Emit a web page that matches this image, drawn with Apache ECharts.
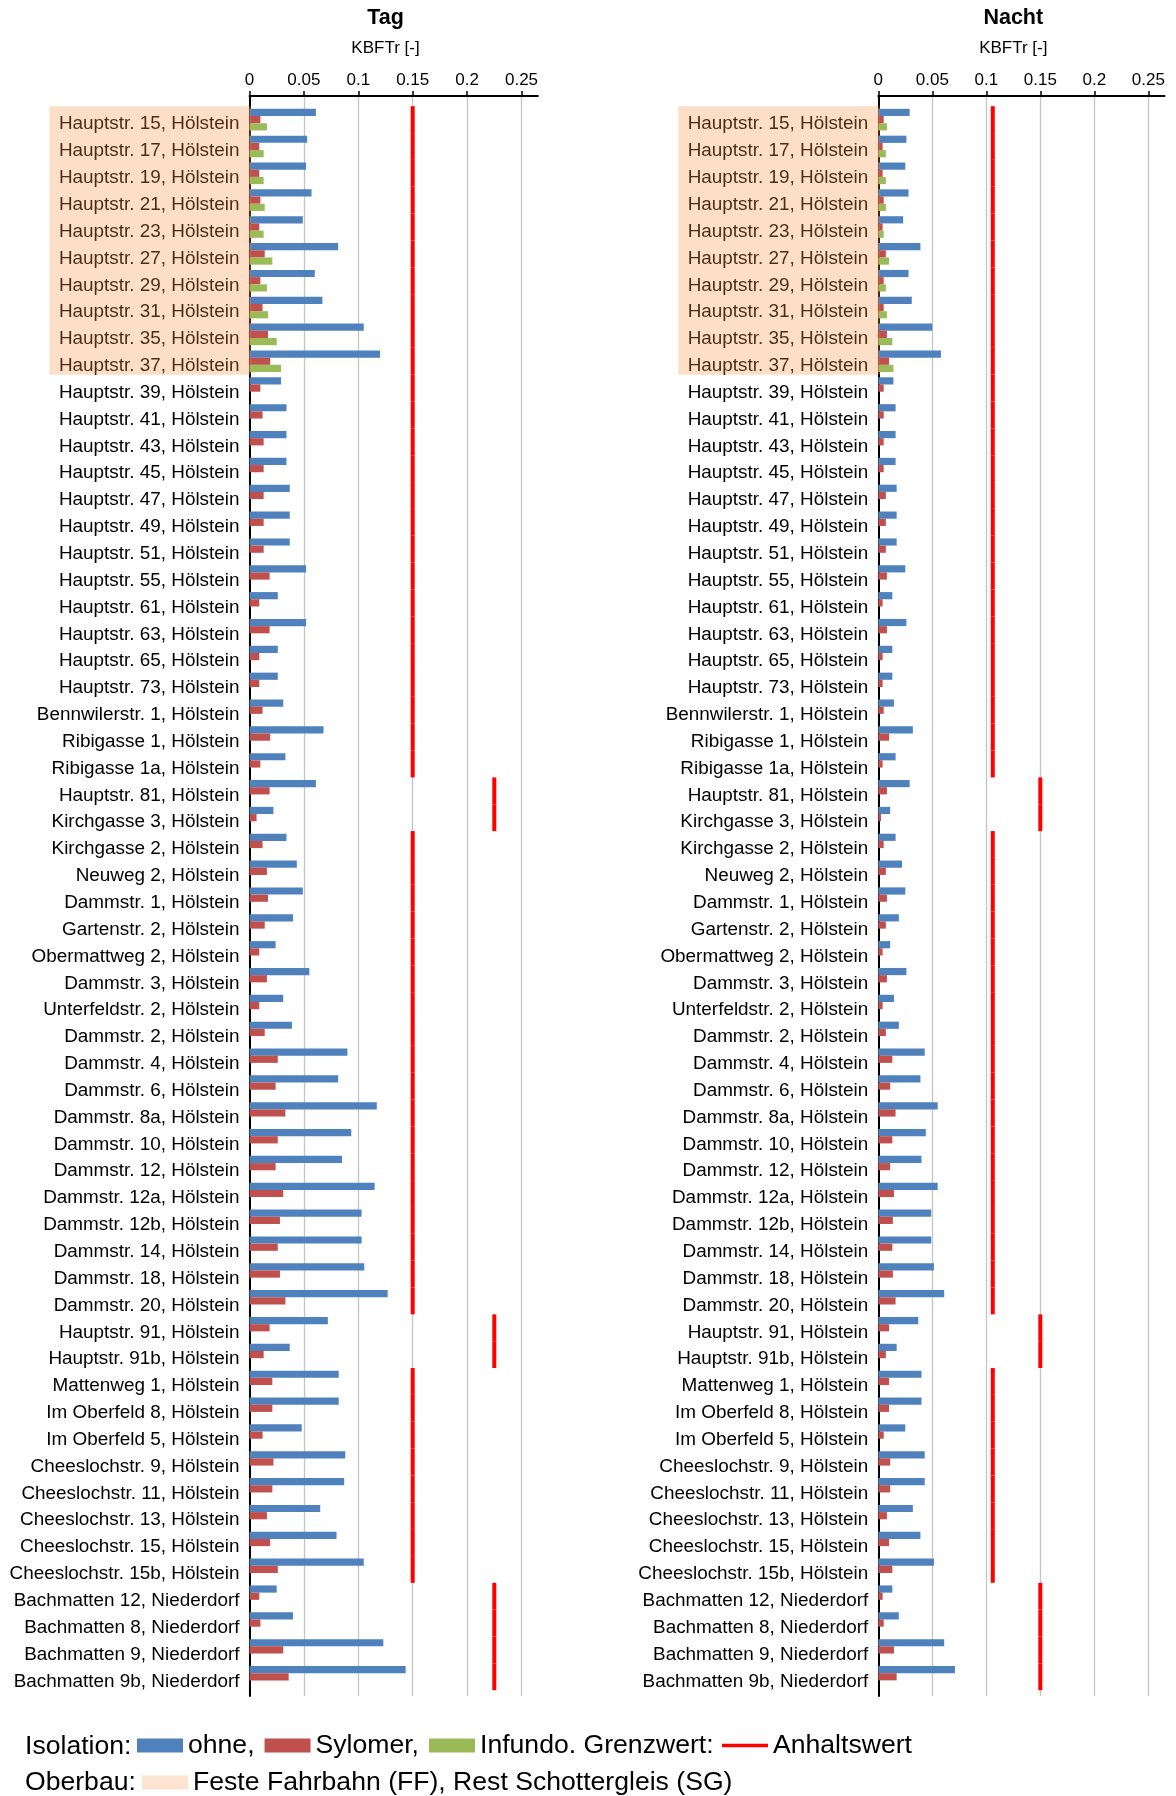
<!DOCTYPE html>
<html><head><meta charset="utf-8">
<script src="https://cdn.jsdelivr.net/npm/echarts@6/dist/echarts.min.js"></script>
<style>html,body{margin:0;padding:0;background:#fff}#c{width:1176px;height:1796px}</style>
</head><body><div id="c"></div>
<script>
const categories = [
 'Hauptstr. 15, Hölstein','Hauptstr. 17, Hölstein','Hauptstr. 19, Hölstein','Hauptstr. 21, Hölstein','Hauptstr. 23, Hölstein',
 'Hauptstr. 27, Hölstein','Hauptstr. 29, Hölstein','Hauptstr. 31, Hölstein','Hauptstr. 35, Hölstein','Hauptstr. 37, Hölstein',
 'Hauptstr. 39, Hölstein','Hauptstr. 41, Hölstein','Hauptstr. 43, Hölstein','Hauptstr. 45, Hölstein','Hauptstr. 47, Hölstein',
 'Hauptstr. 49, Hölstein','Hauptstr. 51, Hölstein','Hauptstr. 55, Hölstein','Hauptstr. 61, Hölstein','Hauptstr. 63, Hölstein',
 'Hauptstr. 65, Hölstein','Hauptstr. 73, Hölstein','Bennwilerstr. 1, Hölstein','Ribigasse 1, Hölstein','Ribigasse 1a, Hölstein',
 'Hauptstr. 81, Hölstein','Kirchgasse 3, Hölstein','Kirchgasse 2, Hölstein','Neuweg 2, Hölstein','Dammstr. 1, Hölstein',
 'Gartenstr. 2, Hölstein','Obermattweg 2, Hölstein','Dammstr. 3, Hölstein','Unterfeldstr. 2, Hölstein','Dammstr. 2, Hölstein',
 'Dammstr. 4, Hölstein','Dammstr. 6, Hölstein','Dammstr. 8a, Hölstein','Dammstr. 10, Hölstein','Dammstr. 12, Hölstein',
 'Dammstr. 12a, Hölstein','Dammstr. 12b, Hölstein','Dammstr. 14, Hölstein','Dammstr. 18, Hölstein','Dammstr. 20, Hölstein',
 'Hauptstr. 91, Hölstein','Hauptstr. 91b, Hölstein','Mattenweg 1, Hölstein','Im Oberfeld 8, Hölstein','Im Oberfeld 5, Hölstein',
 'Cheeslochstr. 9, Hölstein','Cheeslochstr. 11, Hölstein','Cheeslochstr. 13, Hölstein','Cheeslochstr. 15, Hölstein','Cheeslochstr. 15b, Hölstein',
 'Bachmatten 12, Niederdorf','Bachmatten 8, Niederdorf','Bachmatten 9, Niederdorf','Bachmatten 9b, Niederdorf'
];
// categories with Feste Fahrbahn (FF) – first and last index of the highlighted block
const ffRange = [0, 9];

const tickValues = [0, 0.05, 0.1, 0.15, 0.2, 0.25];
const axisMax = 0.265;

// Tag
const ohneTag = [0.061,0.053,0.052,0.057,0.049,0.0815,0.060,0.067,0.105,0.120,
 0.029,0.034,0.034,0.034,0.037,0.037,0.037,0.052,0.026,0.052,
 0.026,0.026,0.031,0.068,0.033,0.061,0.022,0.034,0.0435,0.049,
 0.040,0.024,0.055,0.031,0.039,0.090,0.0815,0.117,0.0935,0.085,
 0.115,0.103,0.103,0.1055,0.127,0.072,0.037,0.082,0.082,0.048,
 0.088,0.087,0.065,0.080,0.105,0.025,0.040,0.123,0.1435];
const sylomerTag = [0.010,0.009,0.009,0.010,0.009,0.014,0.010,0.012,0.017,0.019,
 0.010,0.012,0.013,0.013,0.013,0.013,0.013,0.0185,0.009,0.0185,
 0.009,0.009,0.012,0.019,0.010,0.0185,0.0065,0.012,0.016,0.017,
 0.014,0.009,0.016,0.009,0.014,0.026,0.024,0.033,0.026,0.024,
 0.031,0.028,0.026,0.028,0.033,0.0185,0.013,0.021,0.021,0.012,
 0.022,0.021,0.016,0.019,0.026,0.009,0.010,0.031,0.036];
const infundoTag = [0.016,0.013,0.013,0.014,0.013,0.021,0.016,0.017,0.025,0.029];
const grenzTag = [0.15,0.15,0.15,0.15,0.15,0.15,0.15,0.15,0.15,0.15,
 0.15,0.15,0.15,0.15,0.15,0.15,0.15,0.15,0.15,0.15,
 0.15,0.15,0.15,0.15,0.15,0.225,0.225,0.15,0.15,0.15,
 0.15,0.15,0.15,0.15,0.15,0.15,0.15,0.15,0.15,0.15,
 0.15,0.15,0.15,0.15,0.15,0.225,0.225,0.15,0.15,0.15,
 0.15,0.15,0.15,0.15,0.15,0.225,0.225,0.225,0.225];

// Nacht
const ohneNacht = [0.029,0.026,0.025,0.028,0.023,0.039,0.028,0.031,0.050,0.058,
 0.014,0.016,0.016,0.016,0.017,0.017,0.017,0.025,0.013,0.026,
 0.013,0.013,0.0145,0.032,0.016,0.029,0.011,0.016,0.022,0.025,
 0.019,0.011,0.026,0.0145,0.019,0.043,0.039,0.055,0.044,0.040,
 0.055,0.049,0.049,0.0515,0.061,0.037,0.017,0.040,0.040,0.025,
 0.043,0.043,0.032,0.039,0.0515,0.013,0.019,0.061,0.071];
const sylomerNacht = [0.005,0.004,0.004,0.005,0.004,0.007,0.005,0.005,0.008,0.010,
 0.005,0.005,0.005,0.005,0.007,0.007,0.007,0.008,0.004,0.008,
 0.004,0.004,0.005,0.010,0.004,0.008,0.0025,0.005,0.007,0.008,
 0.007,0.004,0.008,0.004,0.007,0.013,0.011,0.016,0.013,0.011,
 0.0145,0.0135,0.013,0.0135,0.016,0.010,0.007,0.010,0.010,0.005,
 0.011,0.011,0.008,0.010,0.013,0.004,0.005,0.0145,0.017];
const infundoNacht = [0.008,0.007,0.007,0.007,0.005,0.010,0.007,0.008,0.013,0.014];
const grenzNacht = [0.106,0.106,0.106,0.106,0.106,0.106,0.106,0.106,0.106,0.106,
 0.106,0.106,0.106,0.106,0.106,0.106,0.106,0.106,0.106,0.106,
 0.106,0.106,0.106,0.106,0.106,0.15,0.15,0.106,0.106,0.106,
 0.106,0.106,0.106,0.106,0.106,0.106,0.106,0.106,0.106,0.106,
 0.106,0.106,0.106,0.106,0.106,0.15,0.15,0.106,0.106,0.106,
 0.106,0.106,0.106,0.106,0.106,0.15,0.15,0.15,0.15];

const seriesNames = ['ohne','Sylomer','Infundo','Anhaltswert','Feste Fahrbahn (FF), Rest Schottergleis (SG)'];
const COLORS = {ohne:'#4F81BD', Sylomer:'#C0504D', Infundo:'#9BBB59', grenz:'#FF0000', ff:'rgba(247,150,70,0.30)', ffLegend:'#FDE4D0'};
const FONT = '"Liberation Sans", Arial, sans-serif';

const chart = echarts.init(document.getElementById('c'), null, {renderer:'canvas', width:1176, height:1796});

// pixel width per 0.25 of axis: 272 (Tag), 270 (Nacht)
const panels = [
 {title:'Tag', left:249.5, width:272*axisMax/0.25, ohne:ohneTag, syl:sylomerTag, inf:infundoTag, grenz:grenzTag},
 {title:'Nacht', left:878.3, width:270*axisMax/0.25, ohne:ohneNacht, syl:sylomerNacht, inf:infundoNacht, grenz:grenzNacht}
];

const FRAME_TOP = 96, FRAME_BOTTOM = 100;
const BAR_TOP = 106.2, BAR_H = 1584;

const grid = [], xAxis = [], yAxis = [], series = [], graphic = [];
panels.forEach((p, i) => {
  const gf = 2*i, gb = 2*i+1;
  grid.push({left:p.left, width:p.width, top:FRAME_TOP, bottom:FRAME_BOTTOM, containLabel:false, show:false});
  grid.push({left:p.left, width:p.width, top:BAR_TOP, height:BAR_H, containLabel:false, show:false});
  xAxis.push({type:'value', gridIndex:gf, position:'top', min:tickValues[0], max:axisMax,
    interval:tickValues[1]-tickValues[0],
    name:'KBFTr [-]', nameLocation:'middle', nameGap:39,
    nameTextStyle:{fontFamily:FONT, fontSize:17, color:'#000', padding:[0,0,0,-(p.width-p.width*0.25/axisMax)]},
    axisLine:{show:true, onZero:false, lineStyle:{color:'#000', width:2}},
    axisTick:{show:true, length:5, lineStyle:{color:'#000', width:1.5}, customValues:tickValues},
    axisLabel:{fontFamily:FONT, fontSize:17, color:'#000', margin:7, customValues:tickValues},
    splitLine:{show:true, lineStyle:{color:'#C4C4C4', width:1.3}}
  });
  xAxis.push({type:'value', gridIndex:gb, min:tickValues[0], max:axisMax, show:false,
    axisLine:{show:false}, axisTick:{show:false}, axisLabel:{show:false}, splitLine:{show:false}});
  yAxis.push({type:'value', gridIndex:gf, min:0, max:1, axisLine:{show:true, onZero:false, lineStyle:{color:'#000', width:2}},
    axisTick:{show:false}, axisLabel:{show:false}, splitLine:{show:false}});
  yAxis.push({type:'category', gridIndex:gb, data:categories, inverse:true,
    axisLine:{show:false}, axisTick:{show:false}, splitLine:{show:false},
    axisLabel:{fontFamily:FONT, fontSize:18.9, color:'#000', margin:10, interval:0, verticalAlign:'top', lineHeight:9.2}});
  const common = {type:'bar', xAxisIndex:gb, yAxisIndex:gb, barWidth:7.2, barGap:'0%', silent:true};
  series.push(Object.assign({name:'ohne', data:p.ohne, itemStyle:{color:COLORS.ohne}}, common));
  series.push(Object.assign({name:'Sylomer', data:p.syl, itemStyle:{color:COLORS.Sylomer}}, common));
  series.push(Object.assign({name:'Infundo', data:p.inf, itemStyle:{color:COLORS.Infundo}}, common));
  series.push({type:'custom', name:'Anhaltswert', xAxisIndex:gb, yAxisIndex:gb, silent:true, z:5,
    itemStyle:{color:COLORS.grenz},
    data:p.grenz.map((v, k) => [v, k]),
    encode:{x:0, y:1},
    renderItem:function(params, api){
      const c = api.coord([api.value(0), api.value(1)]);
      const h = api.size([0, 1])[1];
      return {type:'rect', shape:{x:c[0]-2, y:c[1]-h/2, width:4, height:h}, style:{fill:COLORS.grenz}};
    }
  });
  series.push({type:'custom', name:seriesNames[4], xAxisIndex:gb, yAxisIndex:gb, silent:true, z:6, clip:false,
    itemStyle:{color:COLORS.ffLegend},
    data:[[0, ffRange[0], ffRange[1]]],
    encode:{x:0, y:[1,2]},
    renderItem:function(params, api){
      const a = api.coord([0, api.value(1)]);
      const b = api.coord([0, api.value(2)]);
      const h = api.size([0, 1])[1];
      const top = a[1]-h/2, bot = b[1]+h/2;
      return {type:'rect', shape:{x:a[0]-200, y:top, width:201.5, height:bot-top}, style:{fill:COLORS.ff}};
    }
  });
  const plotW = p.width*0.25/axisMax;
  graphic.push({type:'text', x:p.left + plotW/2, y:18.3, style:{text:p.title, fontFamily:FONT, fontWeight:'bold', fontSize:21.5, fill:'#000', align:'center', verticalAlign:'middle'}});
});

graphic.push({type:'text', x:25, y:1746.5, style:{text:'Isolation:', fontFamily:FONT, fontSize:26.6, fill:'#000', align:'left', verticalAlign:'middle'}});
graphic.push({type:'text', x:25, y:1782.5, style:{text:'Oberbau:', fontFamily:FONT, fontSize:26.6, fill:'#000', align:'left', verticalAlign:'middle'}});

const legendLabels = {'ohne':'ohne,', 'Sylomer':'Sylomer,', 'Infundo':'Infundo. Grenzwert:'};
const legendText = {fontFamily:FONT, fontSize:26.6, color:'#000'};

chart.setOption({
  animation:false,
  backgroundColor:'#fff',
  grid, xAxis, yAxis, series, graphic,
  legend:[
    {data:[{name:'ohne',icon:'rect'},{name:'Sylomer',icon:'rect'},{name:'Infundo',icon:'rect'}],
     left:132, top:1727, itemWidth:46, itemHeight:14, itemGap:10, itemStyle:{borderWidth:0}, selectedMode:false,
     formatter:n => legendLabels[n], textStyle:legendText},
    {data:[{name:'Anhaltswert',icon:'rect', itemStyle:{color:COLORS.grenz}}],
     left:717, top:1727, itemWidth:46, itemHeight:3.5, selectedMode:false, textStyle:legendText},
    {data:[{name:seriesNames[4],icon:'rect', itemStyle:{color:COLORS.ffLegend}}],
     left:137, top:1764, itemWidth:46, itemHeight:14, selectedMode:false, textStyle:legendText}
  ]
});
</script></body></html>
